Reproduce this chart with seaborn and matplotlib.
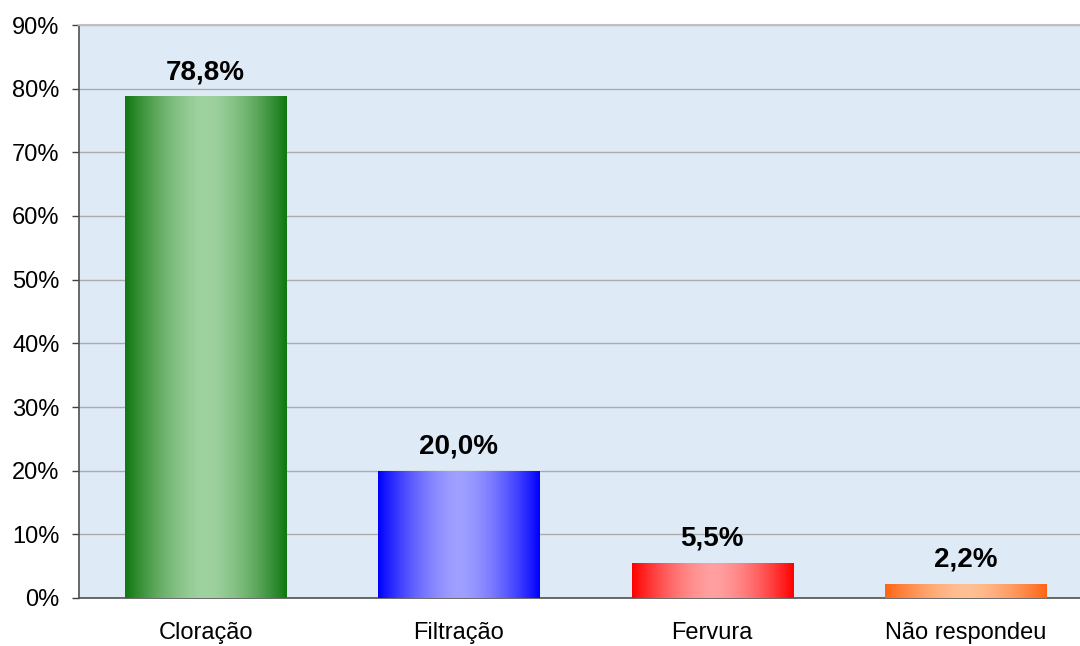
import numpy as np
import pandas as pd
import matplotlib
matplotlib.use("Agg")
import matplotlib.pyplot as plt
import seaborn as sns
from matplotlib.colors import to_rgb
from matplotlib.ticker import FixedLocator

categories = ["Cloração", "Filtração", "Fervura", "Não respondeu"]
values = [78.8, 20.0, 5.5, 2.2]
labels = ["78,8%", "20,0%", "5,5%", "2,2%"]
y_ticks = [0, 10, 20, 30, 40, 50, 60, 70, 80, 90]
y_tick_labels = [f"{v}%" for v in y_ticks]

edge_colors = ["#0f780f", "#0000ff", "#ff0000", "#ff6414"]
center_colors = ["#a0d2a0", "#a0a0ff", "#ffa0a0", "#ffc095"]

sns.set_style("white")
plt.rcParams["font.family"] = ["Liberation Sans", "DejaVu Sans"]
plt.rcParams["text.color"] = "black"
plt.rcParams["xtick.color"] = "black"
plt.rcParams["ytick.color"] = "black"

df = pd.DataFrame({"cat": categories, "val": values})

fig = plt.figure(figsize=(10.8, 6.46), dpi=100)
ax = fig.add_axes([79 / 1080, 48 / 646, 1013 / 1080, 573 / 646])
sns.barplot(data=df, x="cat", y="val", ax=ax, width=0.636,
            color="#ffffff", saturation=1, linewidth=0, zorder=3)

ax.set_facecolor("#dfeaf7")

# gradient fill for each bar
for patch, ec, cc in zip(ax.patches, edge_colors, center_colors):
    x0 = patch.get_x()
    w = patch.get_width()
    h = patch.get_height()
    t = np.abs(np.linspace(-1, 1, 256)) ** 1.6
    e = np.array(to_rgb(ec))
    c = np.array(to_rgb(cc))
    img = c[None, :] + (e - c)[None, :] * t[:, None]
    im = ax.imshow(img[None, :, :], extent=[x0, x0 + w, 0, h], aspect="auto",
                   zorder=4, interpolation="bilinear")
    im.set_clip_path(patch)
ax.set_xlim(-0.5, 3.5)
ax.set_ylim(0, 90)
ax.set_aspect("auto")

for i, (v, lab) in enumerate(zip(values, labels)):
    ax.annotate(lab, (i, v), xytext=(0, 8), textcoords="offset points",
                ha="center", va="bottom", fontsize=20, fontweight="bold",
                color="black", zorder=6)

ax.set_yticks(y_ticks)
ax.set_yticklabels(y_tick_labels)
ax.yaxis.grid(True, color="#ababab", linewidth=1, zorder=1)
ax.set_axisbelow(True)

ax.xaxis.set_minor_locator(FixedLocator([-0.5, 0.5, 1.5, 2.5, 3.5]))
ax.tick_params(axis="x", which="major", length=0, pad=17, labelsize=17)
ax.tick_params(axis="x", which="minor", length=5, width=1, color="#404040", direction="out")
ax.tick_params(axis="y", which="major", length=5, width=1, color="#404040",
               direction="out", pad=9, labelsize=17, left=True)

ax.set_xlabel("")
ax.set_ylabel("")

for s in ["left", "bottom"]:
    ax.spines[s].set_color("#505050")
    ax.spines[s].set_linewidth(1.2)
ax.spines["top"].set_visible(True)
ax.spines["top"].set_color("#c0c0c0")
ax.spines["top"].set_linewidth(1.5)
ax.spines["right"].set_visible(False)

fig.savefig("out.png", dpi=100)
